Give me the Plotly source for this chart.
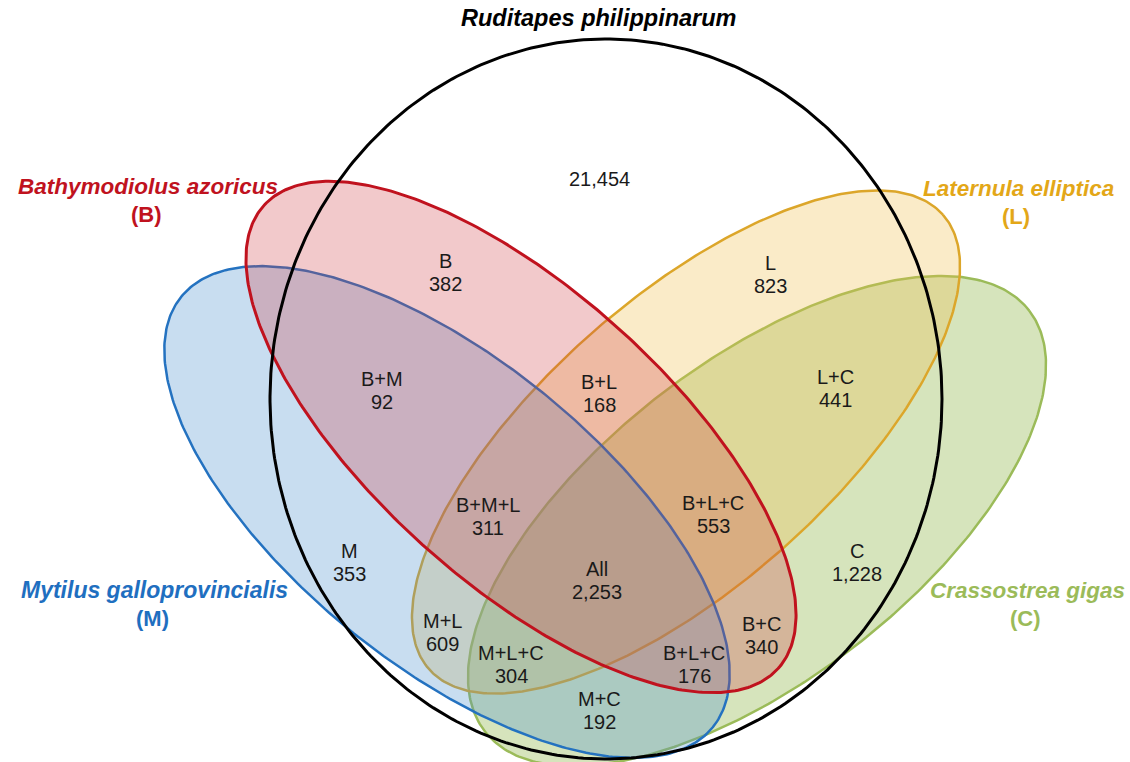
import numpy as np
import plotly.graph_objects as go

# ---------------- data ----------------
species_names = ["Bathymodiolus azoricus", "Mytilus galloprovincialis", "Laternula elliptica", "Crassostrea gigas"]
species_codes = ["(B)", "(M)", "(L)", "(C)"]
reference_species = "Ruditapes philippinarum"

region_names = ["", "B", "L", "B+M", "B+L", "L+C", "B+M+L", "B+L+C", "All", "M", "C",
                "M+L", "M+L+C", "B+L+C", "B+C", "M+C"]
region_counts = [21454, 382, 823, 92, 168, 441, 311, 553, 2253, 353, 1228,
                 609, 304, 176, 340, 192]

# ---------------- layout / style (pixel space) ----------------
W, H = 1130, 762
# label centers for each region (same order as region_names)
region_pos = [(599, 179), (445, 272), (770, 274), (382, 390), (599, 393), (835, 388),
              (488, 516), (713, 514), (597, 580), (349, 562), (857, 562),
              (442, 632), (511, 664), (694, 664), (761, 635), (599, 710)]
LINE_GAP = 23

# ellipse geometry: cx, cy, a, b, angle(deg, screen coords)
ellipses = {
    "C": dict(c=(757, 521), a=344, b=159, ang=-37.7, line="#9BBB59", fill="rgba(138,178,64,0.35)", w=2.5),
    "L": dict(c=(686, 442), a=343, b=144, ang=-41.5, line="#DCA62A", fill="rgba(238,188,72,0.30)", w=2.5),
    "M": dict(c=(447, 512), a=342, b=153, ang=39, line="#2472C0", fill="rgba(72,142,205,0.30)", w=2.5),
    "B": dict(c=(521, 437), a=346, b=146, ang=42, line="#C0121E", fill="rgba(209,62,69,0.28)", w=3),
}
draw_order = ["C", "L", "M", "B"]

species_label = {
    "B": dict(pos=(148, 186), color="#C0121E", idx=0),
    "M": dict(pos=(154, 590), color="#1F6FC0", idx=1),
    "L": dict(pos=(1018, 188), color="#E3A718", idx=2),
    "C": dict(pos=(1027, 590), color="#9BBB59", idx=3),
}
FONT = "Liberation Sans, Arial, sans-serif"

def ellipse_xy(cx, cy, a, b, ang, n=400):
    t = np.linspace(0, 2 * np.pi, n)
    th = np.deg2rad(ang)
    x = cx + a * np.cos(t) * np.cos(th) - b * np.sin(t) * np.sin(th)
    y = cy + a * np.cos(t) * np.sin(th) + b * np.sin(t) * np.cos(th)
    return x, y

fig = go.Figure()

for k in draw_order:
    e = ellipses[k]
    x, y = ellipse_xy(e["c"][0], e["c"][1], e["a"], e["b"], e["ang"])
    fig.add_trace(go.Scatter(x=x, y=y, mode="lines", fill="toself",
                             fillcolor=e["fill"], line=dict(color=e["line"], width=e["w"]),
                             hoverinfo="skip", showlegend=False))

# reference circle (black outline)
x, y = ellipse_xy(606, 399, 336, 360, 0)
fig.add_trace(go.Scatter(x=x, y=y, mode="lines", line=dict(color="#000000", width=3),
                         hoverinfo="skip", showlegend=False))

annotations = []
lab_font = dict(family=FONT, size=20, color="#1a1a1a")
for name, cnt, (px, py) in zip(region_names, region_counts, region_pos):
    if name == "":
        annotations.append(dict(x=px, y=py, text=f"{cnt:,}", showarrow=False, xref="x", yref="y", font=lab_font))
    else:
        annotations.append(dict(x=px, y=py - LINE_GAP / 2, text=name, showarrow=False, xref="x", yref="y", font=lab_font))
        annotations.append(dict(x=px, y=py + LINE_GAP / 2, text=f"{cnt:,}", showarrow=False, xref="x", yref="y", font=lab_font))

annotations.append(dict(x=598, y=18, text=f"<b><i>{reference_species}</i></b>", showarrow=False,
                        xref="x", yref="y", font=dict(family=FONT, size=23.5, color="#000000")))

for k, s in species_label.items():
    px, py = s["pos"]
    size = 23 if k == "M" else 22.5
    annotations.append(dict(x=px, y=py, text=f"<b><i>{species_names[s['idx']]}</i></b>", showarrow=False,
                            xref="x", yref="y", font=dict(family=FONT, size=size, color=s["color"])))
    annotations.append(dict(x=px - 2, y=py + 28, text=f"<b>{species_codes[s['idx']]}</b>", showarrow=False,
                            xref="x", yref="y", font=dict(family=FONT, size=22, color=s["color"])))

fig.update_layout(
    width=W, height=H, autosize=False,
    margin=dict(l=0, r=0, t=0, b=0),
    paper_bgcolor="white", plot_bgcolor="white",
    xaxis=dict(range=[0, W], visible=False, fixedrange=True),
    yaxis=dict(range=[H, 0], visible=False, fixedrange=True),
    annotations=annotations,
)

fig.write_html("out.html", config={"displayModeBar": False},
               post_script="document.body.style.margin='0';document.body.style.overflow='hidden';")
